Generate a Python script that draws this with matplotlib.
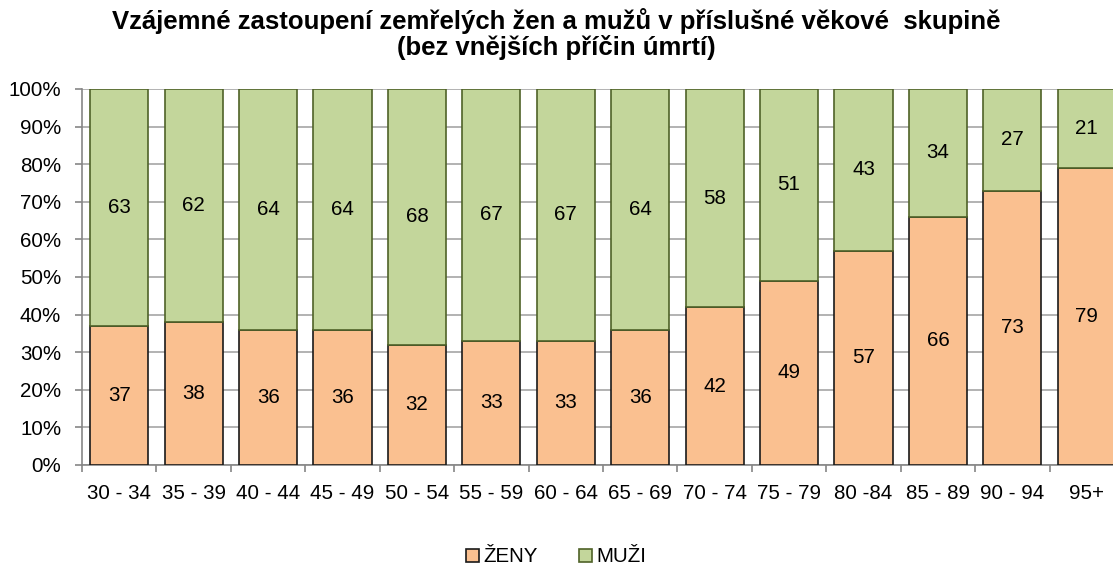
import matplotlib.pyplot as plt
import numpy as np

plt.rcParams['font.family'] = ['Liberation Sans', 'DejaVu Sans']

# age groups and shares (%)
categories = ['30 - 34', '35 - 39', '40 - 44', '45 - 49', '50 - 54', '55 - 59', '60 - 64',
              '65 - 69', '70 - 74', '75 - 79', '80 -84', '85 - 89', '90 - 94', '95+']
zeny = [37, 38, 36, 36, 32, 33, 33, 36, 42, 49, 57, 66, 73, 79]
muzi = [63, 62, 64, 64, 68, 67, 67, 64, 58, 51, 43, 34, 27, 21]

W, H = 1113, 566
fig = plt.figure(figsize=(W / 100, H / 100), dpi=100)

# axes runs past the right edge, last bar gets cut like in the original
left, right, top, bottom = 82, 1124, 89, 465
ax = fig.add_axes([left / W, (H - bottom) / H, (right - left) / W, (bottom - top) / H])

x = np.arange(len(categories))
width = 0.78
fs = 14.8

ax.bar(x, zeny, width, color='#FAC090', edgecolor='#1a1a1a', linewidth=1.2, label='ŽENY', zorder=3)
ax.bar(x, muzi, width, bottom=zeny, color='#C3D69B', edgecolor='#4F6228', linewidth=1.2,
       label='MUŽI', zorder=3)

# value labels in the middle of each segment
for i in range(len(categories)):
    ax.text(x[i], zeny[i] / 2, str(zeny[i]), ha='center', va='center', fontsize=fs, zorder=4)
    ax.text(x[i], zeny[i] + muzi[i] / 2, str(muzi[i]), ha='center', va='center',
            fontsize=fs, zorder=4)

ax.set_xlim(-0.5, len(categories) - 0.5)
ax.set_ylim(0, 100)

ax.set_yticks(np.arange(0, 101, 10))
ax.set_yticklabels(['%d%%' % v for v in range(0, 101, 10)], fontsize=fs)
ax.yaxis.grid(True, color='#A6A6A6', linewidth=1.2, zorder=0)

ax.set_xticks(x)
ax.set_xticklabels(categories, fontsize=fs)
ax.set_xticks(np.arange(-0.5, len(categories), 1), minor=True)
ax.tick_params(axis='x', which='major', length=0, pad=14)
ax.tick_params(axis='x', which='minor', length=5, color='#868686', width=1.2)
ax.tick_params(axis='y', length=5, color='#868686', width=1.2, pad=10)

for side in ['top', 'right']:
    ax.spines[side].set_visible(False)
for side in ['left', 'bottom']:
    ax.spines[side].set_color('#868686')
    ax.spines[side].set_linewidth(1.2)

fig.text(0.5, 1 - 21 / H, 'Vzájemné zastoupení zemřelých žen a mužů v příslušné věkové  skupině',
         ha='center', va='center', fontsize=18.5, fontweight='bold')
fig.text(0.5, 1 - 47 / H, '(bez vnějších příčin úmrtí)',
         ha='center', va='center', fontsize=18.5, fontweight='bold')

fig.legend(loc='center', bbox_to_anchor=(0.5, 1 - 557 / H), ncol=2, frameon=False,
           fontsize=fs, handlelength=0.6, handleheight=0.6, handletextpad=0.25,
           columnspacing=2.0)

plt.savefig('out.png', dpi=100)
